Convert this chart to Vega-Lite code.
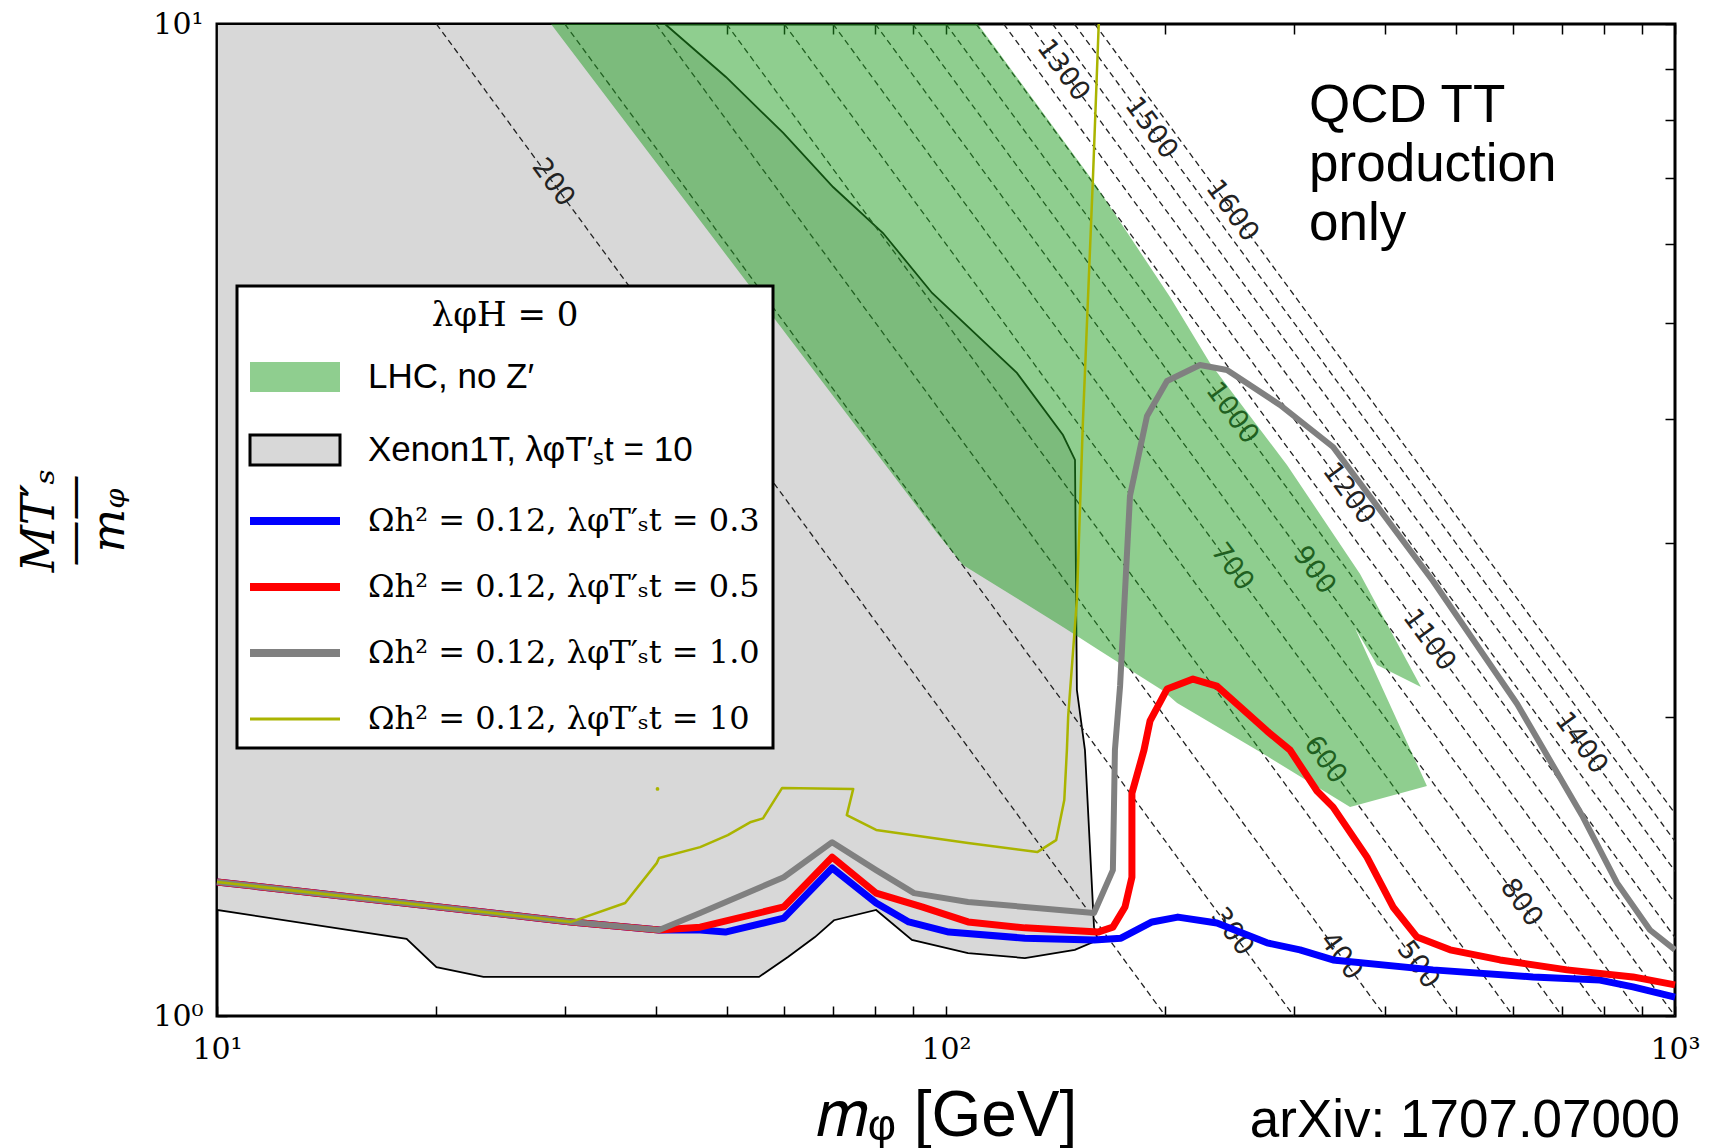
{
  "$schema": "https://vega.github.io/schema/vega-lite/v6.json",
  "width": 1458,
  "height": 992,
  "autosize": {"type": "none"},
  "padding": {"left": 217, "top": 24, "right": 35, "bottom": 132},
  "background": "white",
  "config": {
    "view": {"stroke": "black", "strokeWidth": 3},
    "axis": {
      "domain": false, "grid": false, "ticks": true, "tickColor": "black", "tickWidth": 1.5, "tickSize": -10,
      "labelFont": "DejaVu Serif", "labelFontSize": 30, "labelColor": "black", "titleColor": "black",
      "labelOverlap": false, "labelFlush": false
    }
  },
  "datasets": {
    "xenon": [
      {"i": 0, "m": 10, "r": 10}, {"i": 1, "m": 41.16, "r": 10}, {"i": 2, "m": 49.9, "r": 8.843},
      {"i": 3, "m": 59.8, "r": 7.765}, {"i": 4, "m": 70.0, "r": 6.85}, {"i": 5, "m": 81.96, "r": 6.156},
      {"i": 6, "m": 95.7, "r": 5.356}, {"i": 7, "m": 125.1, "r": 4.449}, {"i": 8, "m": 144.7, "r": 3.852},
      {"i": 9, "m": 150.3, "r": 3.635}, {"i": 10, "m": 151.2, "r": 2.131}, {"i": 11, "m": 155.1, "r": 1.854},
      {"i": 12, "m": 159.6, "r": 1.229}, {"i": 13, "m": 161.6, "r": 1.193}, {"i": 14, "m": 150.2, "r": 1.166},
      {"i": 15, "m": 128.3, "r": 1.144}, {"i": 16, "m": 107.2, "r": 1.157}, {"i": 17, "m": 89.8, "r": 1.193},
      {"i": 18, "m": 80.2, "r": 1.279}, {"i": 19, "m": 70.2, "r": 1.249}, {"i": 20, "m": 66.1, "r": 1.201},
      {"i": 21, "m": 60.7, "r": 1.147}, {"i": 22, "m": 55.4, "r": 1.095}, {"i": 23, "m": 23.2, "r": 1.095},
      {"i": 24, "m": 20.0, "r": 1.12}, {"i": 25, "m": 18.2, "r": 1.196}, {"i": 26, "m": 10, "r": 1.279},
      {"i": 27, "m": 10, "r": 10}
    ],
    "lhc": [
      {"i": 0, "m": 28.72, "r": 10}, {"i": 1, "m": 110.6, "r": 10}, {"i": 2, "m": 159.1, "r": 6.946},
      {"i": 3, "m": 202.9, "r": 5.306}, {"i": 4, "m": 230.2, "r": 4.552}, {"i": 5, "m": 293.6, "r": 3.593},
      {"i": 6, "m": 369.8, "r": 2.79}, {"i": 7, "m": 448.3, "r": 2.146}, {"i": 8, "m": 390.2, "r": 2.259},
      {"i": 9, "m": 363.9, "r": 2.461}, {"i": 10, "m": 456.8, "r": 1.706}, {"i": 11, "m": 358.3, "r": 1.624},
      {"i": 12, "m": 275.6, "r": 1.828}, {"i": 13, "m": 207.5, "r": 2.068}, {"i": 14, "m": 198.5, "r": 2.127},
      {"i": 15, "m": 162.6, "r": 2.334}, {"i": 16, "m": 144.7, "r": 2.467}, {"i": 17, "m": 105.5, "r": 2.849},
      {"i": 18, "m": 97.2, "r": 3.069}, {"i": 19, "m": 28.72, "r": 10}
    ],
    "contours": [
      {"M": 200, "m": 20, "r": 10}, {"M": 200, "m": 200, "r": 1},
      {"M": 300, "m": 30, "r": 10}, {"M": 300, "m": 300, "r": 1},
      {"M": 400, "m": 40, "r": 10}, {"M": 400, "m": 400, "r": 1},
      {"M": 500, "m": 50, "r": 10}, {"M": 500, "m": 500, "r": 1},
      {"M": 600, "m": 60, "r": 10}, {"M": 600, "m": 600, "r": 1},
      {"M": 700, "m": 70, "r": 10}, {"M": 700, "m": 700, "r": 1},
      {"M": 800, "m": 80, "r": 10}, {"M": 800, "m": 800, "r": 1},
      {"M": 900, "m": 90, "r": 10}, {"M": 900, "m": 900, "r": 1},
      {"M": 1000, "m": 100, "r": 10}, {"M": 1000, "m": 1000, "r": 1},
      {"M": 1100, "m": 110, "r": 10}, {"M": 1100, "m": 1100, "r": 1},
      {"M": 1200, "m": 120, "r": 10}, {"M": 1200, "m": 1200, "r": 1},
      {"M": 1300, "m": 130, "r": 10}, {"M": 1300, "m": 1300, "r": 1},
      {"M": 1400, "m": 140, "r": 10}, {"M": 1400, "m": 1400, "r": 1},
      {"M": 1500, "m": 150, "r": 10}, {"M": 1500, "m": 1500, "r": 1},
      {"M": 1600, "m": 160, "r": 10}, {"M": 1600, "m": 1600, "r": 1}
    ],
    "clabels": [
      {"label": "200", "m": 28.9, "r": 6.92},
      {"label": "300", "m": 246.8, "r": 1.2156},
      {"label": "400", "m": 348.1, "r": 1.149},
      {"label": "500", "m": 444.0, "r": 1.126},
      {"label": "600", "m": 331.1, "r": 1.812},
      {"label": "700", "m": 246.8, "r": 2.836},
      {"label": "800", "m": 615.1, "r": 1.3006},
      {"label": "900", "m": 319.8, "r": 2.814},
      {"label": "1000", "m": 246.8, "r": 4.052},
      {"label": "1100", "m": 459.8, "r": 2.392},
      {"label": "1200", "m": 357.0, "r": 3.361},
      {"label": "1300", "m": 144.7, "r": 8.98},
      {"label": "1400", "m": 743.1, "r": 1.884},
      {"label": "1500", "m": 191.1, "r": 7.85},
      {"label": "1600", "m": 246.8, "r": 6.48}
    ],
    "curves": [
      {"s": "b", "i": 0, "m": 10, "r": 1.365}, {"s": "b", "i": 1, "m": 30.6, "r": 1.244}, {"s": "b", "i": 2, "m": 40.4, "r": 1.221},
      {"s": "b", "i": 3, "m": 46.0, "r": 1.221}, {"s": "b", "i": 4, "m": 49.8, "r": 1.215}, {"s": "b", "i": 5, "m": 59.9, "r": 1.255},
      {"s": "b", "i": 6, "m": 69.8, "r": 1.41}, {"s": "b", "i": 7, "m": 80.2, "r": 1.3}, {"s": "b", "i": 8, "m": 88.9, "r": 1.244},
      {"s": "b", "i": 9, "m": 100.9, "r": 1.215}, {"s": "b", "i": 10, "m": 128.3, "r": 1.198}, {"s": "b", "i": 11, "m": 159.6, "r": 1.193},
      {"s": "b", "i": 12, "m": 173.8, "r": 1.198}, {"s": "b", "i": 13, "m": 191.7, "r": 1.244}, {"s": "b", "i": 14, "m": 208, "r": 1.258},
      {"s": "b", "i": 15, "m": 235.3, "r": 1.241}, {"s": "b", "i": 16, "m": 275.6, "r": 1.185}, {"s": "b", "i": 17, "m": 305.9, "r": 1.166},
      {"s": "b", "i": 18, "m": 339.6, "r": 1.139}, {"s": "b", "i": 19, "m": 465.6, "r": 1.113}, {"s": "b", "i": 20, "m": 638.6, "r": 1.095},
      {"s": "b", "i": 21, "m": 788.9, "r": 1.087}, {"s": "b", "i": 22, "m": 875.6, "r": 1.07}, {"s": "b", "i": 23, "m": 1000, "r": 1.045},

      {"s": "r", "i": 0, "m": 10, "r": 1.365}, {"s": "r", "i": 1, "m": 30.6, "r": 1.244}, {"s": "r", "i": 2, "m": 40.4, "r": 1.221},
      {"s": "r", "i": 3, "m": 46.0, "r": 1.229}, {"s": "r", "i": 4, "m": 59.9, "r": 1.288}, {"s": "r", "i": 5, "m": 69.8, "r": 1.446},
      {"s": "r", "i": 6, "m": 80.2, "r": 1.33}, {"s": "r", "i": 7, "m": 92.7, "r": 1.288}, {"s": "r", "i": 8, "m": 107.2, "r": 1.244},
      {"s": "r", "i": 9, "m": 128.3, "r": 1.227}, {"s": "r", "i": 10, "m": 161.6, "r": 1.215}, {"s": "r", "i": 11, "m": 169.4, "r": 1.229},
      {"s": "r", "i": 12, "m": 176, "r": 1.288}, {"s": "r", "i": 13, "m": 179.9, "r": 1.38}, {"s": "r", "i": 14, "m": 179.9, "r": 1.677},
      {"s": "r", "i": 15, "m": 186.9, "r": 1.854}, {"s": "r", "i": 16, "m": 190.5, "r": 1.984}, {"s": "r", "i": 17, "m": 201.0, "r": 2.136},
      {"s": "r", "i": 18, "m": 218.2, "r": 2.186}, {"s": "r", "i": 19, "m": 235.3, "r": 2.151}, {"s": "r", "i": 20, "m": 275.6, "r": 1.938},
      {"s": "r", "i": 21, "m": 296.4, "r": 1.854}, {"s": "r", "i": 22, "m": 322.8, "r": 1.686}, {"s": "r", "i": 23, "m": 339.6, "r": 1.624},
      {"s": "r", "i": 24, "m": 378.0, "r": 1.446}, {"s": "r", "i": 25, "m": 410.4, "r": 1.288}, {"s": "r", "i": 26, "m": 442.7, "r": 1.201},
      {"s": "r", "i": 27, "m": 491.4, "r": 1.166}, {"s": "r", "i": 28, "m": 575.4, "r": 1.139}, {"s": "r", "i": 29, "m": 711.1, "r": 1.113},
      {"s": "r", "i": 30, "m": 875.6, "r": 1.095}, {"s": "r", "i": 31, "m": 1000, "r": 1.075},

      {"s": "g", "i": 0, "m": 10, "r": 1.365}, {"s": "g", "i": 1, "m": 30.6, "r": 1.244}, {"s": "g", "i": 2, "m": 40.4, "r": 1.221},
      {"s": "g", "i": 3, "m": 46.0, "r": 1.27}, {"s": "g", "i": 4, "m": 59.9, "r": 1.38}, {"s": "g", "i": 5, "m": 69.8, "r": 1.497},
      {"s": "g", "i": 6, "m": 80.2, "r": 1.403}, {"s": "g", "i": 7, "m": 90.4, "r": 1.33}, {"s": "g", "i": 8, "m": 107.2, "r": 1.303},
      {"s": "g", "i": 9, "m": 128.3, "r": 1.288}, {"s": "g", "i": 10, "m": 159.6, "r": 1.27}, {"s": "g", "i": 11, "m": 169.4, "r": 1.403},
      {"s": "g", "i": 12, "m": 170.5, "r": 1.854}, {"s": "g", "i": 13, "m": 173.3, "r": 2.151}, {"s": "g", "i": 14, "m": 178.8, "r": 3.344},
      {"s": "g", "i": 15, "m": 188.7, "r": 4.026}, {"s": "g", "i": 16, "m": 201.0, "r": 4.366}, {"s": "g", "i": 17, "m": 223.0, "r": 4.531},
      {"s": "g", "i": 18, "m": 242.9, "r": 4.479}, {"s": "g", "i": 19, "m": 287.2, "r": 4.13}, {"s": "g", "i": 20, "m": 339.6, "r": 3.746},
      {"s": "g", "i": 21, "m": 465.6, "r": 2.745}, {"s": "g", "i": 22, "m": 607.4, "r": 2.063}, {"s": "g", "i": 23, "m": 747.7, "r": 1.587},
      {"s": "g", "i": 24, "m": 832.6, "r": 1.362}, {"s": "g", "i": 25, "m": 924.0, "r": 1.221}, {"s": "g", "i": 26, "m": 1000, "r": 1.166},

      {"s": "y", "i": 0, "m": 10, "r": 1.365}, {"s": "y", "i": 1, "m": 30.6, "r": 1.244}, {"s": "y", "i": 2, "m": 36.3, "r": 1.3},
      {"s": "y", "i": 3, "m": 40.1, "r": 1.426}, {"s": "y", "i": 4, "m": 40.4, "r": 1.443}, {"s": "y", "i": 5, "m": 46.0, "r": 1.48},
      {"s": "y", "i": 6, "m": 50.2, "r": 1.522}, {"s": "y", "i": 7, "m": 54.0, "r": 1.569}, {"s": "y", "i": 8, "m": 56.1, "r": 1.582},
      {"s": "y", "i": 9, "m": 59.6, "r": 1.698}, {"s": "y", "i": 10, "m": 74.6, "r": 1.694}, {"s": "y", "i": 11, "m": 73.1, "r": 1.594},
      {"s": "y", "i": 12, "m": 80.2, "r": 1.54}, {"s": "y", "i": 13, "m": 107.2, "r": 1.494}, {"s": "y", "i": 14, "m": 133.4, "r": 1.463},
      {"s": "y", "i": 15, "m": 141.6, "r": 1.504}, {"s": "y", "i": 16, "m": 145.3, "r": 1.651}, {"s": "y", "i": 17, "m": 146.5, "r": 1.854},
      {"s": "y", "i": 18, "m": 147.1, "r": 2.006}, {"s": "y", "i": 19, "m": 151.2, "r": 2.627}, {"s": "y", "i": 20, "m": 154.1, "r": 3.971},
      {"s": "y", "i": 21, "m": 159.1, "r": 7.028}, {"s": "y", "i": 22, "m": 162, "r": 10}
    ],
    "dot": [{"m": 40.2, "r": 1.694}]
  },
  "layer": [
    {
      "data": {"name": "xenon"},
      "mark": {"type": "line", "fill": "#d8d8d8", "stroke": "black", "strokeWidth": 1.8, "strokeJoin": "miter"},
      "encoding": {
        "x": {"field": "m", "type": "quantitative", "scale": {"type": "log", "domain": [10, 1000], "nice": false},
          "axis": {"orient": "bottom", "values": [10,20,30,40,50,60,70,80,90,100,200,300,400,500,600,700,800,900,1000],
            "labelExpr": "datum.value == 10 ? '10¹' : datum.value == 100 ? '10²' : datum.value == 1000 ? '10³' : ''",
            "labelPadding": 28, "labelBaseline": "top",
            "title": "𝑚ᵩ [GeV]", "titleFont": "Liberation Sans", "titleFontSize": 64, "titleFontWeight": "normal",
            "titleX": 729, "titleY": 119, "titleBaseline": "alphabetic", "titleAlign": "center", "titleAngle": 0}},
        "y": {"field": "r", "type": "quantitative", "scale": {"type": "log", "domain": [1, 10], "nice": false},
          "axis": {"orient": "left", "values": [1,2,3,4,5,6,7,8,9,10],
            "labelExpr": "datum.value == 1 ? '10⁰' : datum.value == 10 ? '10¹' : ''",
            "labelPadding": 24,
            "title": ["𝑀T′ₛ", "——", "𝑚ᵩ"], "titleFont": "DejaVu Serif", "titleFontStyle": "italic", "titleFontSize": 46,
            "titleFontWeight": "normal", "titleLineHeight": 35,
            "titleX": -178, "titleY": 496, "titleAngle": -90, "titleAlign": "center", "titleBaseline": "middle"}},
        "order": {"field": "i", "type": "quantitative"}
      }
    },
    {
      "data": {"name": "contours"},
      "mark": {"type": "line", "clip": true, "stroke": "#222222", "strokeWidth": 1.3, "strokeDash": [6, 4]},
      "encoding": {
        "x": {"field": "m", "type": "quantitative", "scale": {"type": "log", "domain": [10, 1000], "nice": false},
          "axis": {"orient": "top", "values": [10,20,30,40,50,60,70,80,90,100,200,300,400,500,600,700,800,900,1000], "labels": false, "title": null}},
        "y": {"field": "r", "type": "quantitative", "scale": {"type": "log", "domain": [1, 10], "nice": false},
          "axis": {"orient": "right", "values": [1,2,3,4,5,6,7,8,9,10], "labels": false, "title": null}},
        "detail": {"field": "M", "type": "nominal"}
      }
    },
    {
      "data": {"name": "clabels"},
      "mark": {"type": "text", "angle": 53.7, "font": "DejaVu Sans", "fontSize": 27, "color": "#222222", "align": "center", "baseline": "middle"},
      "encoding": {
        "x": {"field": "m", "type": "quantitative", "scale": {"type": "log", "domain": [10, 1000], "nice": false}, "axis": null},
        "y": {"field": "r", "type": "quantitative", "scale": {"type": "log", "domain": [1, 10], "nice": false}, "axis": null},
        "text": {"field": "label", "type": "nominal"}
      }
    },
    {
      "data": {"name": "lhc"},
      "mark": {"type": "line", "fill": "#1f9e1f", "fillOpacity": 0.5, "strokeWidth": 0, "stroke": "transparent"},
      "encoding": {
        "x": {"field": "m", "type": "quantitative", "scale": {"type": "log", "domain": [10, 1000], "nice": false}, "axis": null},
        "y": {"field": "r", "type": "quantitative", "scale": {"type": "log", "domain": [1, 10], "nice": false}, "axis": null},
        "order": {"field": "i", "type": "quantitative"}
      }
    },
    {
      "data": {"name": "curves"},
      "transform": [{"filter": "datum.s == 'b'"}],
      "mark": {"type": "line", "strokeWidth": 7, "strokeJoin": "round"},
      "encoding": {
        "x": {"field": "m", "type": "quantitative", "scale": {"type": "log", "domain": [10, 1000], "nice": false}, "axis": null},
        "y": {"field": "r", "type": "quantitative", "scale": {"type": "log", "domain": [1, 10], "nice": false}, "axis": null},
        "order": {"field": "i", "type": "quantitative"},
        "color": {"datum": "b", "type": "nominal",
          "scale": {"domain": ["lhc", "xen", "b", "r", "g", "y"], "range": ["#1f9e1f", "#000000", "#0000ff", "#ff0000", "#808080", "#aab400"]},
          "legend": {
            "orient": "none", "legendX": 20, "legendY": 262,
            "title": "λφH = 0", "titleFont": "DejaVu Serif", "titleFontSize": 34, "titleFontWeight": "normal",
            "titleAnchor": "middle", "titleColor": "black", "titlePadding": 44,
            "labelFont": "Liberation Sans", "labelFontSize": 35, "labelColor": "black", "labelLimit": 0,
            "labelExpr": "['LHC, no Z′', 'Xenon1T, λφT′ₛt = 10', 'Ωh² = 0.12, λφT′ₛt = 0.3', 'Ωh² = 0.12, λφT′ₛt = 0.5', 'Ωh² = 0.12, λφT′ₛt = 1.0', 'Ωh² = 0.12, λφT′ₛt = 10'][indexof(['lhc', 'xen', 'b', 'r', 'g', 'y'], datum.value)]",
            "symbolSize": 3600, "labelOffset": 28, "rowPadding": 34, "padding": 13,
            "fillColor": "white", "strokeColor": "black", "cornerRadius": 0,
            "encode": {
              "legend": {"update": {"strokeWidth": {"value": 3}}},
              "symbols": {"update": {
                "x": {"value": 45},
                "shape": {"signal": "indexof(['lhc', 'xen'], datum.value) >= 0 ? 'M-1.5,-0.5H1.5V0.5H-1.5Z' : 'M-1.5,0H1.5'"},
                "fill": {"signal": "datum.value == 'lhc' ? '#1f9e1f' : datum.value == 'xen' ? '#d8d8d8' : 'transparent'"},
                "fillOpacity": {"signal": "datum.value == 'lhc' ? 0.5 : 1"},
                "strokeWidth": {"signal": "[0, 3, 8, 8, 8, 3][indexof(['lhc', 'xen', 'b', 'r', 'g', 'y'], datum.value)]"},
                "opacity": {"value": 1}
              }},
              "labels": {"update": {
                "x": {"value": 118},
                "font": {"signal": "indexof(['lhc', 'xen'], datum.value) >= 0 ? 'Liberation Sans' : 'DejaVu Serif'"},
                "fontSize": {"signal": "indexof(['lhc', 'xen'], datum.value) >= 0 ? 35 : 32"}
              }}
            }
          }
        }
      }
    },
    {
      "data": {"name": "curves"},
      "transform": [{"filter": "datum.s == 'r'"}],
      "mark": {"type": "line", "strokeWidth": 7, "strokeJoin": "round"},
      "encoding": {
        "x": {"field": "m", "type": "quantitative", "scale": {"type": "log", "domain": [10, 1000], "nice": false}, "axis": null},
        "y": {"field": "r", "type": "quantitative", "scale": {"type": "log", "domain": [1, 10], "nice": false}, "axis": null},
        "order": {"field": "i", "type": "quantitative"},
        "color": {"datum": "r", "type": "nominal",
          "scale": {"domain": ["lhc", "xen", "b", "r", "g", "y"], "range": ["#1f9e1f", "#000000", "#0000ff", "#ff0000", "#808080", "#aab400"]}}
      }
    },
    {
      "data": {"name": "curves"},
      "transform": [{"filter": "datum.s == 'g'"}],
      "mark": {"type": "line", "strokeWidth": 6, "strokeJoin": "round"},
      "encoding": {
        "x": {"field": "m", "type": "quantitative", "scale": {"type": "log", "domain": [10, 1000], "nice": false}, "axis": null},
        "y": {"field": "r", "type": "quantitative", "scale": {"type": "log", "domain": [1, 10], "nice": false}, "axis": null},
        "order": {"field": "i", "type": "quantitative"},
        "color": {"datum": "g", "type": "nominal",
          "scale": {"domain": ["lhc", "xen", "b", "r", "g", "y"], "range": ["#1f9e1f", "#000000", "#0000ff", "#ff0000", "#808080", "#aab400"]}}
      }
    },
    {
      "data": {"name": "curves"},
      "transform": [{"filter": "datum.s == 'y'"}],
      "mark": {"type": "line", "strokeWidth": 2.5, "strokeJoin": "round"},
      "encoding": {
        "x": {"field": "m", "type": "quantitative", "scale": {"type": "log", "domain": [10, 1000], "nice": false}, "axis": null},
        "y": {"field": "r", "type": "quantitative", "scale": {"type": "log", "domain": [1, 10], "nice": false}, "axis": null},
        "order": {"field": "i", "type": "quantitative"},
        "color": {"datum": "y", "type": "nominal",
          "scale": {"domain": ["lhc", "xen", "b", "r", "g", "y"], "range": ["#1f9e1f", "#000000", "#0000ff", "#ff0000", "#808080", "#aab400"]}}
      }
    },
    {
      "data": {"name": "dot"},
      "mark": {"type": "point", "filled": true, "size": 14, "color": "#aab400", "opacity": 1},
      "encoding": {
        "x": {"field": "m", "type": "quantitative", "scale": {"type": "log", "domain": [10, 1000], "nice": false}, "axis": null},
        "y": {"field": "r", "type": "quantitative", "scale": {"type": "log", "domain": [1, 10], "nice": false}, "axis": null}
      }
    },
    {
      "data": {"values": [{"note": "qcd"}]},
      "mark": {"type": "text", "text": ["QCD TT", "production", "only"], "font": "Liberation Sans", "fontSize": 53, "lineHeight": 59,
        "align": "left", "baseline": "alphabetic", "color": "black"},
      "encoding": {
        "x": {"datum": 314.8, "type": "quantitative", "scale": {"type": "log", "domain": [10, 1000], "nice": false}, "axis": null},
        "y": {"datum": 7.964, "type": "quantitative", "scale": {"type": "log", "domain": [1, 10], "nice": false}, "axis": null}
      }
    },
    {
      "data": {"values": [{"note": "arxiv"}]},
      "mark": {"type": "text", "text": "arXiv: 1707.07000", "font": "Liberation Sans", "fontSize": 53,
        "align": "right", "baseline": "alphabetic", "color": "black", "dx": 5, "clip": false},
      "encoding": {
        "x": {"datum": 1000, "type": "quantitative", "scale": {"type": "log", "domain": [10, 1000], "nice": false}, "axis": null},
        "y": {"datum": 0.7551, "type": "quantitative", "scale": {"type": "log", "domain": [1, 10], "nice": false}, "axis": null}
      }
    }
  ],
  "resolve": {"axis": {"x": "independent", "y": "independent"}}
}
